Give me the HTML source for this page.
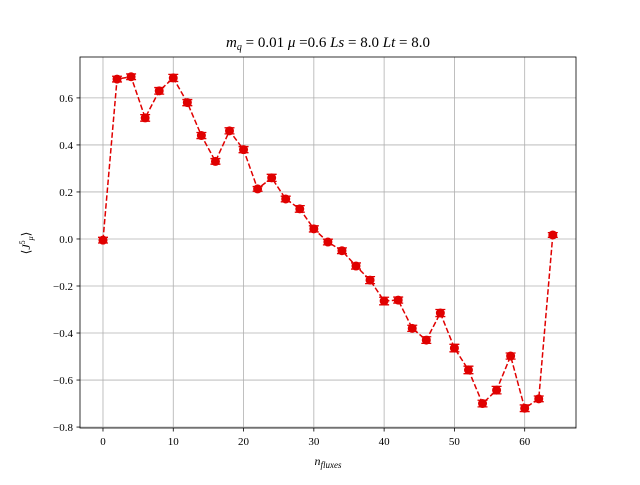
<!DOCTYPE html>
<html><head><meta charset="utf-8"><style>
body{margin:0;background:#fff;}
svg text{font-family:"Liberation Serif",serif;fill:#000;}
</style></head><body>
<svg id="chart" width="640" height="480" xmlns="http://www.w3.org/2000/svg">
<rect width="640" height="480" fill="#fff"/>
<g id="grid"></g>
<g id="marks"></g>
<rect x="80" y="57" width="496" height="371" fill="none" stroke="#000" stroke-width="0.8"/>
<g id="ticks"></g>
<text x="328" y="47" text-anchor="middle" font-size="15"><tspan font-style="italic">m</tspan><tspan font-size="10" font-style="italic" dy="3">q</tspan><tspan dy="-3"> = 0.01 </tspan><tspan font-style="italic">μ</tspan> =0.6 <tspan font-style="italic">Ls</tspan> = 8.0 <tspan font-style="italic">Lt</tspan> = 8.0</text>
<text x="328" y="465" text-anchor="middle" font-size="12" font-style="italic">n<tspan font-size="9" dy="3">fluxes</tspan></text>
<text transform="translate(30,243) rotate(-90)" text-anchor="middle" font-size="12">⟨<tspan font-style="italic">J</tspan><tspan font-size="8" dy="-5">5</tspan><tspan font-size="8" font-style="italic" dy="8">μ</tspan><tspan dy="-3">⟩</tspan></text>
</svg>
<script>
const xValues=[0,2,4,6,8,10,12,14,16,18,20,22,24,26,28,30,32,34,36,38,40,42,44,46,48,50,52,54,56,58,60,62,64];
const yValues=[-0.005,0.68,0.69,0.515,0.63,0.685,0.58,0.44,0.33,0.46,0.38,0.213,0.26,0.17,0.128,0.043,-0.013,-0.05,-0.115,-0.175,-0.264,-0.26,-0.38,-0.43,-0.315,-0.464,-0.557,-0.70,-0.643,-0.498,-0.72,-0.68,0.017];
const yErrors=[0.012,0.012,0.012,0.014,0.014,0.015,0.013,0.013,0.012,0.013,0.013,0.01,0.015,0.012,0.014,0.013,0.012,0.012,0.013,0.015,0.016,0.013,0.013,0.014,0.015,0.016,0.016,0.014,0.016,0.013,0.014,0.012,0.01];
const xTicks=[0,10,20,30,40,50,60];
const yTicks=[-0.8,-0.6,-0.4,-0.2,0.0,0.2,0.4,0.6];
const L=80,R=576,T=57,B=428,xmin=-3.27,xmax=67.3,ymin=-0.804,ymax=0.774;
const sx=v=>L+(v-xmin)/(xmax-xmin)*(R-L);
const sy=v=>B-(v-ymin)/(ymax-ymin)*(B-T);
const NS="http://www.w3.org/2000/svg";
function mk(tag,attrs,parent){const e=document.createElementNS(NS,tag);for(const k in attrs)e.setAttribute(k,attrs[k]);parent.appendChild(e);return e;}
const grid=document.getElementById('grid'),ticks=document.getElementById('ticks'),marks=document.getElementById('marks');
xTicks.forEach(t=>{const x=sx(t);
const g=mk('line',{x1:x,x2:x,y1:T,y2:B,stroke:'#b0b0b0','stroke-width':0.8},grid);

mk('line',{x1:x,x2:x,y1:B,y2:B+3.5,stroke:'#000','stroke-width':0.8},ticks);
const tx=mk('text',{x:x,y:B+17,'text-anchor':'middle','font-size':11},ticks);tx.textContent=t;
});
yTicks.forEach(t=>{const y=sy(t);
const g=mk('line',{x1:L,x2:R,y1:y,y2:y,stroke:'#b0b0b0','stroke-width':0.8},grid);

mk('line',{x1:L-3.5,x2:L,y1:y,y2:y,stroke:'#000','stroke-width':0.8},ticks);
const tx=mk('text',{x:L-7,y:y+4,'text-anchor':'end','font-size':11},ticks);tx.textContent=(t<0?'−':'')+Math.abs(t).toFixed(1);
});
const line=mk('polyline',{points:xValues.map((x,i)=>sx(x)+','+sy(yValues[i])).join(' '),fill:'none',stroke:'#e00000','stroke-width':1.5,'stroke-dasharray':'5.5,2.4'},marks);

xValues.forEach((x,i)=>{const cx=sx(x),y1=sy(yValues[i]+yErrors[i]),y2=sy(yValues[i]-yErrors[i]);
const eb=mk('path',{d:`M${cx},${y1}V${y2}M${cx-5},${y1}H${cx+5}M${cx-5},${y2}H${cx+5}`,stroke:'#e00000','stroke-width':1.3,fill:'none'},marks);

const c=mk('circle',{cx:cx,cy:sy(yValues[i]),r:4.5,fill:'#e00000'},marks);
});
</script>
</body></html>
